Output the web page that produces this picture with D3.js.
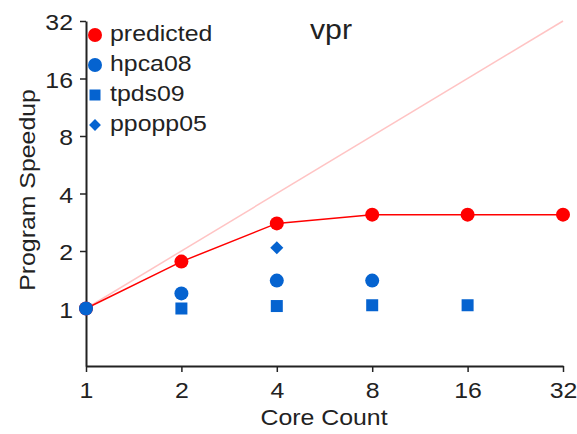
<!DOCTYPE html>
<html>
<head>
<meta charset="utf-8">
<script src="https://cdn.jsdelivr.net/npm/d3@7"></script>
<style>
  body { margin: 0; background: #fff; }
  text { font-family: "Liberation Sans", Arial, sans-serif; fill: #222; }
</style>
</head>
<body>
<svg id="chart" width="577" height="434"></svg>
<script>
// core counts on the x axis
var cores = [1, 2, 4, 8, 16, 32];
var yTicks = [1, 2, 4, 8, 16, 32];

// speedup values
var predicted = [1, 1.76, 2.79, 3.1, 3.1, 3.1];
var hpca08 = [[1, 1], [2, 1.2], [4, 1.4], [8, 1.4]];
var tpds09 = [[2, 1.0], [4, 1.03], [8, 1.04], [16, 1.04]];
var ppopp05 = [[4, 2.08]];
var ideal = [[1, 1], [32, 32]];
var legendNames = ["predicted", "hpca08", "tpds09", "ppopp05"];

var red = "#ff0000", blue = "#0563d0";
var stretch = "scale(1.13,1)"; // the original font is a bit wide

var svg = d3.select("#chart");
var x = d3.scaleLog().base(2).domain([1, 32]).range([86, 563]);
var y = d3.scaleLog().base(2).domain([0.5, 32]).range([366, 21]);

// axes
svg.append("g")
  .attr("transform", "translate(0,366)")
  .call(d3.axisBottom(x).tickValues(cores).tickFormat(d3.format("d")).tickSize(6).tickSizeOuter(0))
  .call(function (g) {
    g.select(".domain").attr("stroke", "#222").attr("stroke-width", 2);
    g.selectAll(".tick line").attr("stroke", "#222").attr("stroke-width", 1.5);
    g.selectAll(".tick text").attr("font-size", 22).attr("y", 32).attr("dy", "0")
      .attr("transform", stretch);
  });

svg.append("g")
  .attr("transform", "translate(86,0)")
  .call(d3.axisLeft(y).tickValues(yTicks).tickFormat(d3.format("d")).tickSize(6).tickSizeOuter(0))
  .call(function (g) {
    g.select(".domain").attr("stroke", "#222").attr("stroke-width", 2);
    g.selectAll(".tick line").attr("stroke", "#222").attr("stroke-width", 1.5);
    g.selectAll(".tick text").attr("font-size", 22).attr("x", -11.5).attr("dy", "0.4em")
      .attr("transform", stretch);
  });

svg.selectAll("text").attr("font-family", "Liberation Sans, Arial, sans-serif").attr("fill", "#222");

// axis titles
svg.append("g").attr("transform", "translate(324,425)")
  .append("text").attr("transform", stretch).attr("text-anchor", "middle")
  .attr("font-size", 22).text("Core Count");
svg.append("g").attr("transform", "translate(34.5,190) rotate(-90)")
  .append("text").attr("transform", stretch).attr("text-anchor", "middle")
  .attr("font-size", 22).text("Program Speedup");

// chart title
svg.append("g").attr("transform", "translate(331,39)")
  .append("text").attr("transform", "scale(1.08,1)").attr("text-anchor", "middle")
  .attr("font-size", 28).text("vpr");

// ideal scaling line
var line = d3.line().x(function (d) { return x(d[0]); }).y(function (d) { return y(d[1]); });
svg.append("path").datum(ideal).attr("d", line)
  .attr("fill", "none").attr("stroke", "#ffc4c4").attr("stroke-width", 1.5);

// predicted line + points
var predData = cores.map(function (c, i) { return [c, predicted[i]]; });
svg.append("path").datum(predData).attr("d", line)
  .attr("fill", "none").attr("stroke", red).attr("stroke-width", 1.5);
svg.selectAll(".pred").data(predData).enter().append("circle")
  .attr("cx", function (d) { return x(d[0]); }).attr("cy", function (d) { return y(d[1]); })
  .attr("r", 7).attr("fill", red);

// hpca08 circles
svg.selectAll(".hpca").data(hpca08).enter().append("circle")
  .attr("cx", function (d) { return x(d[0]); }).attr("cy", function (d) { return y(d[1]); })
  .attr("r", 7).attr("fill", blue);

// tpds09 squares
svg.selectAll(".tpds").data(tpds09).enter().append("rect")
  .attr("x", function (d) { return x(d[0]) - 6; }).attr("y", function (d) { return y(d[1]) - 6; })
  .attr("width", 12).attr("height", 12).attr("fill", blue);

// ppopp05 diamonds
svg.selectAll(".ppopp").data(ppopp05).enter().append("path")
  .attr("transform", function (d) { return "translate(" + x(d[0]) + "," + y(d[1]) + ") rotate(45)"; })
  .attr("d", d3.symbol().type(d3.symbolSquare).size(85)).attr("fill", blue);

// legend
var leg = svg.append("g").attr("transform", "translate(95,35)");
legendNames.forEach(function (name, i) {
  var g = leg.append("g").attr("transform", "translate(0," + i * 30 + ")");
  if (i === 0) g.append("circle").attr("r", 7).attr("fill", red);
  else if (i === 1) g.append("circle").attr("r", 7).attr("fill", blue);
  else if (i === 2) g.append("rect").attr("x", -5.5).attr("y", -5.5).attr("width", 11).attr("height", 11).attr("fill", blue);
  else g.append("path").attr("transform", "rotate(45)").attr("d", d3.symbol().type(d3.symbolSquare).size(70)).attr("fill", blue);
  g.append("text").attr("x", 13.3).attr("y", 6).attr("font-size", 22)
    .attr("transform", stretch).text(name);
});
</script>
</body>
</html>
